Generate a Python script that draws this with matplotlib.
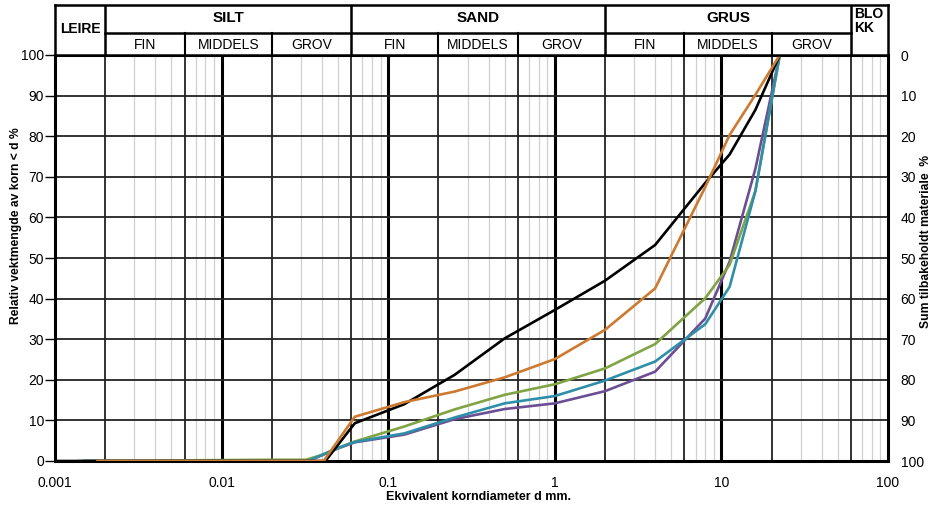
import matplotlib
matplotlib.use("Agg")
import matplotlib.pyplot as plt
import numpy as np

plt.rcParams['font.family'] = ['Liberation Sans', 'DejaVu Sans']

# Grain size distribution curves: sieve diameter (mm) and percent passing
black_d = [0.001, 0.042, 0.063, 0.125, 0.25, 0.5, 1, 2, 4, 8, 11.2, 16, 22.4]
black_p = [0, 0, 9.3, 14.0, 21.2, 30.2, 37.2, 44.4, 53.2, 68.5, 75.5, 86.5, 100]

orange_d = [0.0018, 0.041, 0.063, 0.125, 0.25, 0.5, 1, 2, 4, 8, 11.2, 16, 22.4]
orange_p = [0, 0, 10.9, 14.5, 17.1, 20.6, 25.1, 32.3, 42.5, 67.5, 80.3, 90.2, 100]

green_d = [0.0014, 0.02, 0.032, 0.04, 0.05, 0.063, 0.125, 0.25, 0.5, 1, 2, 4, 8, 11.2, 16, 22.4]
green_p = [0, 0.3, 0.3, 1.5, 3.2, 4.8, 8.5, 12.7, 16.3, 18.9, 22.8, 28.8, 40.1, 48.3, 66.5, 100]

teal_d = [0.0015, 0.033, 0.04, 0.05, 0.063, 0.125, 0.25, 0.5, 1, 2, 4, 8, 11.2, 16, 22.4]
teal_p = [0, 0, 1.5, 3.2, 4.7, 6.8, 10.7, 14.2, 16.0, 19.8, 24.5, 33.7, 42.9, 66.5, 100]

purple_d = [0.0015, 0.033, 0.04, 0.05, 0.063, 0.125, 0.25, 0.5, 1, 2, 4, 8, 11.2, 16, 22.4]
purple_p = [0, 0, 1.4, 3.1, 4.6, 6.5, 10.3, 12.8, 14.2, 17.2, 22.0, 35.1, 49.1, 72.0, 100]

x_ticks = [0.001, 0.01, 0.1, 1, 10, 100]
x_tick_labels = ['0.001', '0.01', '0.1', '1', '10', '100']
y_ticks = [0, 10, 20, 30, 40, 50, 60, 70, 80, 90, 100]

# Soil classes (main groups and sub-divisions)
main_bounds = [0.001, 0.002, 0.06, 2, 60, 100]
main_names = ['LEIRE', 'SILT', 'SAND', 'GRUS', 'BLO\nKK']
sub_bounds = [0.002, 0.006, 0.02, 0.06, 0.2, 0.6, 2, 6, 20, 60]
sub_names = ['FIN', 'MIDDELS', 'GROV'] * 3

W, H = 934, 509
fig = plt.figure(figsize=(W / 100, H / 100), dpi=100)
L, R, T, B = 55, 888, 55, 461
ax = fig.add_axes([L / W, 1 - B / H, (R - L) / W, (B - T) / H])
ax.set_xscale('log')
ax.set_xlim(0.001, 100)
ax.set_ylim(0, 100)

# Grid: decade lines heavy, 2 and 6 dark, the rest light grey
for e in range(-3, 2):
    for m in range(1, 10):
        v = m * 10.0 ** e
        if v <= 0.001 or v >= 100:
            continue
        if m == 1:
            ax.axvline(v, color='black', lw=2.2, zorder=1)
        elif m in (2, 6):
            ax.axvline(v, color='#222222', lw=1.3, zorder=1)
        else:
            ax.axvline(v, color='#d0d0d0', lw=0.9, zorder=0.5)
for yv in y_ticks[1:-1]:
    ax.axhline(yv, color='#222222', lw=1.3, zorder=1)

series = [
    (purple_d, purple_p, '#6b4f95'),
    (green_d, green_p, '#80a343'),
    (teal_d, teal_p, '#2f8ea8'),
    (black_d, black_p, '#000000'),
    (orange_d, orange_p, '#cd7a30'),
]
for d, p, c in series:
    ax.plot(d, p, color=c, lw=1.9, zorder=3, solid_joinstyle='miter')

for s in ax.spines.values():
    s.set_linewidth(2.2)
ax.set_xticks(x_ticks)
ax.set_xticklabels(x_tick_labels)
ax.xaxis.set_minor_locator(matplotlib.ticker.NullLocator())
ax.tick_params(axis='x', length=0, pad=11, labelsize=10)
ax.set_yticks(y_ticks)
ax.tick_params(axis='y', length=7, width=1.0, labelsize=10, pad=1)

ax2 = ax.twinx()
ax2.set_ylim(100, 0)
ax2.set_yticks(y_ticks)
ax2.tick_params(axis='y', length=0, labelsize=10, pad=9)
for s in ax2.spines.values():
    s.set_visible(False)

# Axis titles
fig.text(478 / W, 1 - 497 / H, 'Ekvivalent korndiameter d mm.', fontsize=9,
         fontweight='bold', ha='center', va='center')
fig.text(16 / W, 1 - 226 / H, 'Relativ vektmengde av korn < d %', fontsize=8.7,
         fontweight='bold', ha='center', va='center', rotation=90)
fig.text(926 / W, 1 - 241 / H, 'Sum tilbakeholdt materiale  %', fontsize=8.7,
         fontweight='bold', ha='center', va='center', rotation=90)

# Classification header above the plot
hT = 5
hx = fig.add_axes([L / W, 1 - T / H, (R - L) / W, (T - hT) / H])
hx.set_xscale('log')
hx.set_xlim(0.001, 100)
hx.set_ylim(0, 1)
hx.set_xticks([])
hx.set_yticks([])
hx.xaxis.set_minor_locator(matplotlib.ticker.NullLocator())
for s in hx.spines.values():
    s.set_linewidth(1.8)
mid = 0.44
for b in main_bounds[1:-1]:
    hx.plot([b, b], [0, 1], color='black', lw=1.8)
for b in sub_bounds[1:-1]:
    if b not in main_bounds:
        hx.plot([b, b], [0, mid], color='black', lw=1.5)
hx.plot([0.002, 60], [mid, mid], color='black', lw=1.8)

for i, name in enumerate(main_names):
    lo, hi = main_bounds[i], main_bounds[i + 1]
    if i == 0:
        hx.text(np.sqrt(lo * hi), 0.52, name, ha='center', va='center',
                fontsize=10, fontweight='bold')
    elif i == len(main_names) - 1:
        hx.text(lo * 1.04, 0.95, name, ha='left', va='top', fontsize=10,
                fontweight='bold', linespacing=0.95)
    else:
        hx.text(np.sqrt(lo * hi), 0.74, name, ha='center', va='center',
                fontsize=11, fontweight='bold')
for i, name in enumerate(sub_names):
    lo, hi = sub_bounds[i], sub_bounds[i + 1]
    hx.text(np.sqrt(lo * hi), 0.2, name, ha='center', va='center', fontsize=10)

fig.savefig('out.png', dpi=100)
